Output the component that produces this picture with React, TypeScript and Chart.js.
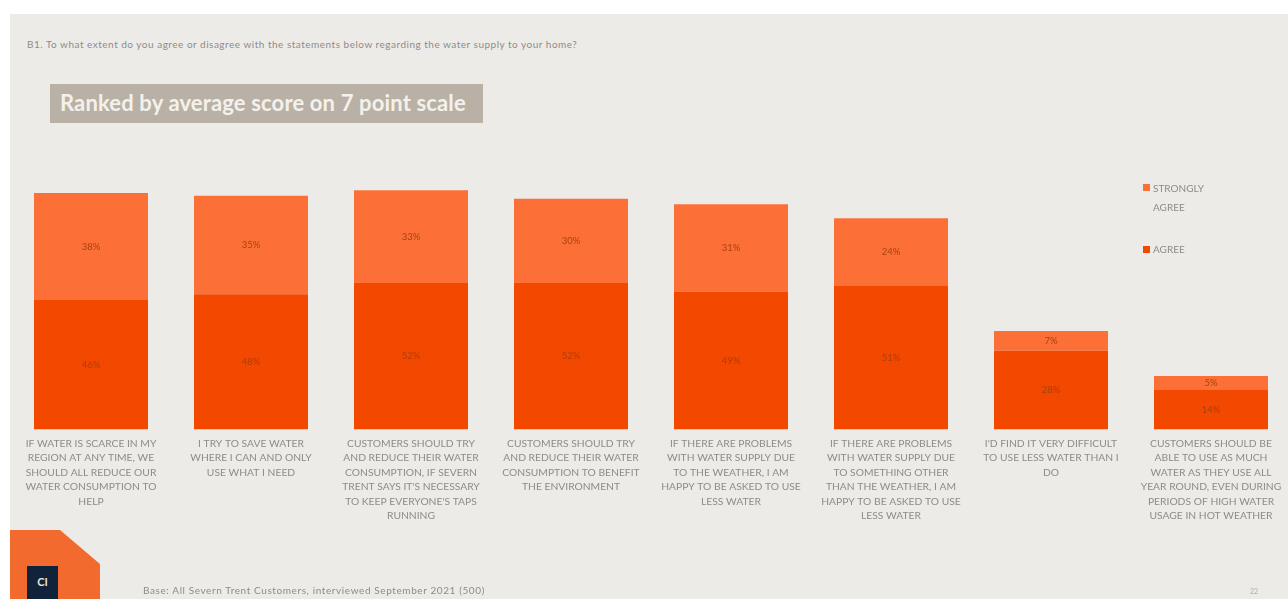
import React, { useEffect, useRef } from "react";
import { Chart, registerables } from "chart.js";

Chart.register(...registerables);

const categories: string[][] = [
  ["IF WATER IS SCARCE IN MY", "REGION AT ANY TIME, WE", "SHOULD ALL REDUCE OUR", "WATER CONSUMPTION TO", "HELP"],
  ["I TRY TO SAVE WATER", "WHERE I CAN AND ONLY", "USE WHAT I NEED"],
  ["CUSTOMERS SHOULD TRY", "AND REDUCE THEIR WATER", "CONSUMPTION, IF SEVERN", "TRENT SAYS IT'S NECESSARY", "TO KEEP EVERYONE'S TAPS", "RUNNING"],
  ["CUSTOMERS SHOULD TRY", "AND REDUCE THEIR WATER", "CONSUMPTION TO BENEFIT", "THE ENVIRONMENT"],
  ["IF THERE ARE PROBLEMS", "WITH WATER SUPPLY DUE", "TO THE WEATHER, I AM", "HAPPY TO BE ASKED TO USE", "LESS WATER"],
  ["IF THERE ARE PROBLEMS", "WITH WATER SUPPLY DUE", "TO SOMETHING OTHER", "THAN THE WEATHER, I AM", "HAPPY TO BE ASKED TO USE", "LESS WATER"],
  ["I'D FIND IT VERY DIFFICULT", "TO USE LESS WATER THAN I", "DO"],
  ["CUSTOMERS SHOULD BE", "ABLE TO USE AS MUCH", "WATER AS THEY USE ALL", "YEAR ROUND, EVEN DURING", "PERIODS OF HIGH WATER", "USAGE IN HOT WEATHER"],
];

const agree: number[] = [46, 48, 52, 52, 49, 51, 28, 14];
const stronglyAgree: number[] = [38, 35, 33, 30, 31, 24, 7, 5];

const seriesNames: string[] = ["AGREE", "STRONGLY AGREE"];
const AGREE_COLOR = "#f24800";
const SA_COLOR = "#fc7038";

const labelPlugin = {
  id: "segLabels",
  afterDatasetsDraw(chart: any) {
    const ctx = chart.ctx;
    ctx.save();
    ctx.font = "9.5px Lato";
    ctx.fillStyle = "#a8400e";
    ctx.textAlign = "center";
    ctx.textBaseline = "middle";
    chart.data.datasets.forEach((ds: any, di: number) => {
      const meta = chart.getDatasetMeta(di);
      meta.data.forEach((el: any, i: number) => {
        const v = ds.data[i];
        const yMid = (el.y + el.base) / 2;
        ctx.fillText(v + "%", el.x, yMid);
      });
    });
    ctx.restore();
  },
};

function BarChart() {
  const ref = useRef<HTMLCanvasElement | null>(null);
  useEffect(() => {
    if (!ref.current) return;
    const chart = new Chart(ref.current, {
      type: "bar",
      data: {
        labels: categories as any,
        datasets: [
          {
            label: seriesNames[0],
            data: agree,
            backgroundColor: AGREE_COLOR,
            barPercentage: 0.7125,
            categoryPercentage: 1,
          },
          {
            label: seriesNames[1],
            data: stronglyAgree,
            backgroundColor: SA_COLOR,
            barPercentage: 0.7125,
            categoryPercentage: 1,
          },
        ],
      },
      options: {
        responsive: false,
        animation: false,
        layout: { padding: { left: 11, right: 9, top: 148, bottom: 69 } },
        plugins: { legend: { display: false }, tooltip: { enabled: false } },
        scales: {
          x: {
            stacked: true,
            grid: { display: false, drawTicks: false },
            border: { display: false },
            ticks: {
              autoSkip: false,
              maxRotation: 0,
              minRotation: 0,
              padding: 7,
              color: "#8e8b88",
              font: { family: "Lato", size: 10.3, lineHeight: 1.4 },
            },
          },
          y: {
            stacked: true,
            display: false,
            min: 0,
            max: 100,
          },
        },
      },
      plugins: [labelPlugin],
    });
    return () => chart.destroy();
  }, []);
  return (
    <canvas
      ref={ref}
      width={1300}
      height={599}
      style={{ position: "absolute", left: 0, top: 0, width: 1300, height: 599 }}
    />
  );
}

export default function App() {
  const grey = "#8e8b88";
  return (
    <div
      style={{
        position: "absolute",
        left: 0,
        top: 0,
        width: 1288,
        height: 599,
        overflow: "hidden",
        background: "#ffffff",
        fontFamily: "Lato, sans-serif",
      }}
    >
      <div style={{ position: "absolute", left: 10, top: 14, width: 1278, height: 585, background: "#edebe8" }} />
      <div
        style={{
          position: "absolute",
          left: 27,
          top: 38,
          fontSize: 10,
          letterSpacing: 0.5,
          color: grey,
          whiteSpace: "nowrap",
        }}
      >
        B1. To what extent do you agree or disagree with the statements below regarding the water supply to your home?
      </div>
      <div
        style={{
          position: "absolute",
          left: 50,
          top: 84,
          width: 433,
          height: 39,
          background: "#b9b1a6",
        }}
      />
      <div
        style={{
          position: "absolute",
          left: 60,
          top: 89,
          fontSize: 22,
          fontWeight: 700,
          letterSpacing: 0.15,
          color: "#f4f1ec",
          whiteSpace: "nowrap",
        }}
      >
        Ranked by average score on 7 point scale
      </div>
      <BarChart />
      {/* legend */}
      <div style={{ position: "absolute", left: 1143, top: 184, width: 7, height: 7, background: SA_COLOR }} />
      <div style={{ position: "absolute", left: 1153, top: 179, fontSize: 10, color: grey, lineHeight: "19px" }}>
        STRONGLY
        <br />
        AGREE
      </div>
      <div style={{ position: "absolute", left: 1143, top: 246, width: 7, height: 7, background: AGREE_COLOR }} />
      <div style={{ position: "absolute", left: 1153, top: 240, fontSize: 10, color: grey, lineHeight: "19px" }}>
        AGREE
      </div>
      {/* logo */}
      <svg style={{ position: "absolute", left: 0, top: 0 }} width={1288} height={599}>
        <polygon points="10,530 60,530 100,564 100,599 10,599" fill="#f36a2e" />
        <rect x={27} y={566} width={31} height={33} fill="#10233a" />
        <text x={42.5} y={586} fontSize={11} fill="#e9e4dc" textAnchor="middle" fontFamily="Lato" fontWeight={700}>
          CI
        </text>
      </svg>
      <div
        style={{
          position: "absolute",
          left: 143,
          top: 584,
          fontSize: 10,
          letterSpacing: 0.6,
          color: grey,
          whiteSpace: "nowrap",
        }}
      >
        Base: All Severn Trent Customers, interviewed September 2021 (500)
      </div>
      <div style={{ position: "absolute", left: 1250, top: 587, fontSize: 7, color: "#b0aca8" }}>22</div>
    </div>
  );
}
